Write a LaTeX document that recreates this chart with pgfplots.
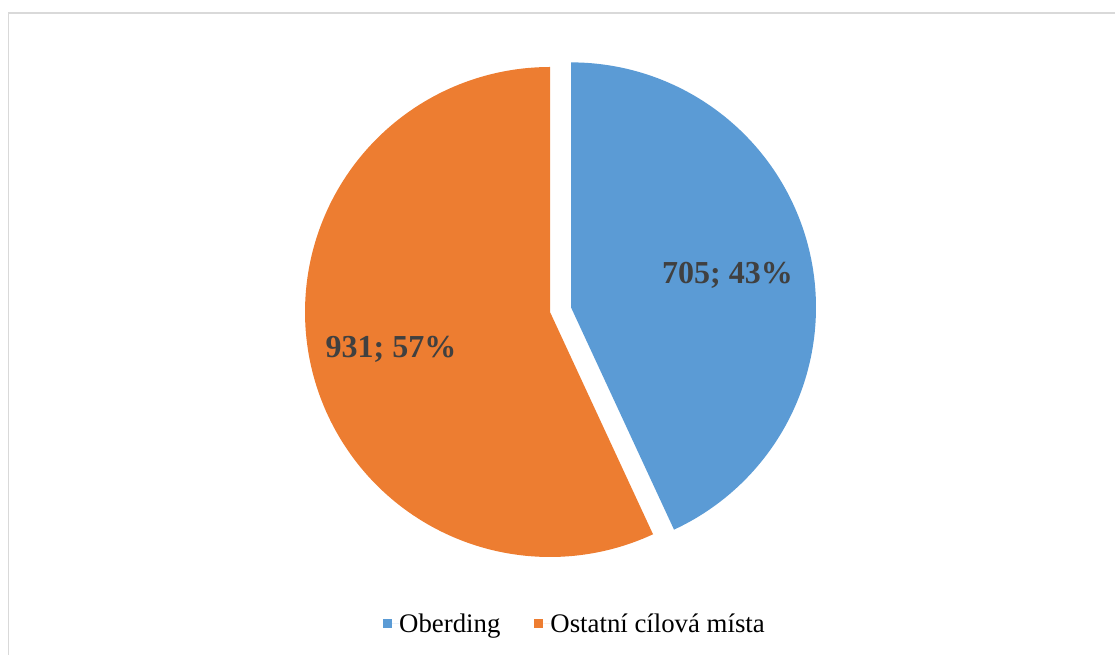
\documentclass[border=0pt]{standalone}
\usepackage{fontspec}
\setmainfont{Liberation Serif}
\usepackage{pgfplots}
\usepackage{pgfplotstable}
\pgfplotsset{compat=1.18}
\definecolor{cblue}{HTML}{5B9BD5}
\definecolor{corange}{HTML}{ED7D31}
\definecolor{clabel}{HTML}{404040}
\definecolor{cframe}{HTML}{D9D9D9}
\pgfplotstableread{
name value
Oberding 705
Ostatni 931
}\piedata
\begin{document}
\begin{tikzpicture}
\pgfplotstablegetelem{0}{value}\of\piedata \let\va\pgfplotsretval
\pgfplotstablegetelem{1}{value}\of\piedata \let\vb\pgfplotsretval
\pgfmathsetmacro{\tot}{\va+\vb}
\pgfmathsetmacro{\frA}{\va/\tot}
\pgfmathsetmacro{\sweepA}{360*\frA}
\pgfmathsetmacro{\aAstart}{90-\sweepA}% blue from aAstart to 90
\pgfmathsetmacro{\sweepB}{360-\sweepA}
\pgfmathsetmacro{\bis}{90-\sweepA/2}
\def\cx{550}\def\cy{343}\def\R{245}
\pgfmathsetmacro{\bx}{\cx+21.5*cos(\bis)}
\pgfmathsetmacro{\by}{\cy+21.5*sin(\bis)}
\begin{axis}[
  at={(0pt,0pt)}, anchor=south west,
  scale only axis, width=1115pt, height=655pt,
  xmin=0, xmax=1115, ymin=0, ymax=655,
  hide axis, clip=false,
  legend columns=2,
  legend style={draw=none, fill=none, at={(axis cs:574,31.5)}, anchor=center,
    font=\fontsize{26.8}{32}\selectfont, inner sep=0pt,
    /tikz/every even column/.append style={column sep=34pt},
    nodes={inner sep=0pt, text depth=0pt}},
  legend cell align=left,
  legend image code/.code={\fill[#1] (0pt,-4.5pt) rectangle (9pt,4.5pt); \path (9pt,0) -- (16pt,0);},
]
\draw[cframe, line width=1.5pt] (axis cs:8.5,-10) -- (axis cs:8.5,642) -- (axis cs:1125,642);
% blue slice (Oberding)
\addplot[fill=cblue, draw=none, variable=\t, samples at={-1,0,1,...,120}]
  ({\bx + \R*(\t>=0)*cos(\aAstart + \sweepA*\t/120)},
   {\by + \R*(\t>=0)*sin(\aAstart + \sweepA*\t/120)});
\addlegendentry{Oberding}
% orange slice
\addplot[fill=corange, draw=none, variable=\t, samples at={-1,0,1,...,160}]
  ({\cx + \R*(\t>=0)*cos(90 + \sweepB*\t/160)},
   {\cy + \R*(\t>=0)*sin(90 + \sweepB*\t/160)});
\addlegendentry{Ostatní cílová místa}
\node[anchor=base, text=clabel, font=\fontsize{32}{38}\selectfont\bfseries] at (axis cs:727.5,371) {705; 43\%};
\node[anchor=base, text=clabel, font=\fontsize{32}{38}\selectfont\bfseries] at (axis cs:391,297.3) {931; 57\%};
\end{axis}
\pgfresetboundingbox
\path[use as bounding box] (0pt,0pt) rectangle (1115pt,655pt);
\end{tikzpicture}
\end{document}
